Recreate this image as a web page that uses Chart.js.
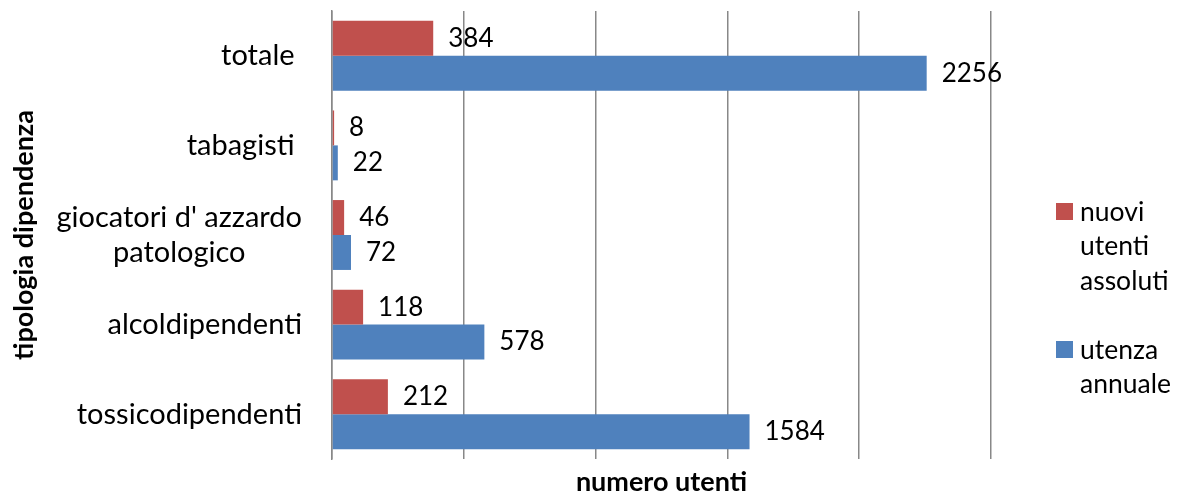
<!DOCTYPE html>
<html>
<head>
<meta charset="utf-8">
<script src="https://cdn.jsdelivr.net/npm/chart.js@4.4.1/dist/chart.umd.min.js"></script>
<style>
  html, body { margin: 0; padding: 0; background: #fff; }
  #wrap { width: 1179px; height: 494px; position: relative; }
</style>
</head>
<body>
<div id="wrap"><canvas id="chart"></canvas></div>
<script>
const categories = ['totale ', 'tabagisti ', ['giocatori d\' azzardo', 'patologico'], 'alcoldipendenti', 'tossicodipendenti'];
const nuoviUtenti = [384, 8, 46, 118, 212];
const utenzaAnnuale = [2256, 22, 72, 578, 1584];
const seriesNames = ['nuovi utenti assoluti', 'utenza annuale'];
const xMax = 2500;
const xStep = 500;

const FONT = 'Lato, "Open Sans", sans-serif';
const RED = '#C0504D';
const BLUE = '#4F81BD';

// category labels: block right-aligned next to the axis, lines centred inside the block
const categoryLabelPlugin = {
    id: 'categoryLabels',
    afterDraw(chart) {
        const ctx = chart.ctx;
        const yScale = chart.scales.y;
        const right = chart.chartArea.left - 30;
        const lineH = 35;
        ctx.save();
        ctx.font = '29px ' + FONT;
        ctx.fillStyle = '#000';
        ctx.textBaseline = 'middle';
        ctx.textAlign = 'center';
        categories.forEach((lbl, i) => {
            const lines = Array.isArray(lbl) ? lbl : [lbl];
            const w = Math.max(...lines.map(l => ctx.measureText(l).width));
            const cx = right - w / 2;
            const yc = yScale.getPixelForValue(i);
            lines.forEach((l, j) => {
                ctx.fillText(l, cx, yc + (j - (lines.length - 1) / 2) * lineH);
            });
        });
        ctx.restore();
    }
};

// value labels at the end of each bar
const valueLabelPlugin = {
    id: 'valueLabels',
    afterDatasetsDraw(chart) {
        const ctx = chart.ctx;
        ctx.save();
        ctx.font = '26px ' + FONT;
        ctx.fillStyle = '#000';
        ctx.textBaseline = 'middle';
        ctx.textAlign = 'left';
        chart.data.datasets.forEach((ds, di) => {
            chart.getDatasetMeta(di).data.forEach((bar, i) => {
                ctx.fillText(String(ds.data[i]), bar.x + 15, bar.y);
            });
        });
        ctx.restore();
    }
};

// legend with wrapped series names
const legendPlugin = {
    id: 'wrapLegend',
    afterDraw(chart) {
        const ctx = chart.ctx;
        const x = 1056;
        let y = 212;
        const lineH = 34.5;
        ctx.save();
        ctx.font = '26.5px ' + FONT;
        ctx.textBaseline = 'middle';
        ctx.textAlign = 'left';
        chart.data.datasets.forEach(ds => {
            ctx.fillStyle = ds.backgroundColor;
            ctx.fillRect(x, y - 9, 17, 17);
            ctx.fillStyle = '#000';
            ds.label.split(' ').forEach(word => {
                ctx.fillText(word, x + 24, y);
                y += lineH;
            });
            y += lineH;
        });
        ctx.restore();
    }
};

const ctx = document.getElementById('chart').getContext('2d');
new Chart(ctx, {
    type: 'bar',
    data: {
        labels: categories,
        datasets: [
            { label: seriesNames[0], data: nuoviUtenti, backgroundColor: RED, categoryPercentage: 0.78, barPercentage: 1 },
            { label: seriesNames[1], data: utenzaAnnuale, backgroundColor: BLUE, categoryPercentage: 0.78, barPercentage: 1 }
        ]
    },
    options: {
        indexAxis: 'y',
        responsive: true,
        maintainAspectRatio: false,
        animation: false,
        layout: { padding: { left: 0, right: 188, top: 11, bottom: 0 } },
        plugins: { legend: { display: false }, tooltip: { enabled: false } },
        scales: {
            x: {
                min: 0, max: xMax,
                ticks: { display: false, stepSize: xStep },
                grid: { color: '#888', lineWidth: 1.5, drawTicks: false },
                border: { display: false },
                title: { display: true, text: 'numero utenti', color: '#000', font: { family: FONT, size: 27, weight: 'bold', lineHeight: 0.85 }, padding: 0 },
                afterFit(scale) { scale.height = 35; }
            },
            y: {
                ticks: { display: false },
                grid: { display: false, drawTicks: false },
                border: { display: true, color: '#888', width: 1.5 },
                title: { display: true, text: 'tipologia dipendenza', color: '#000', font: { family: FONT, size: 27, weight: 'bold', lineHeight: 1 }, padding: { top: 11, bottom: 0 } },
                afterFit(scale) { scale.width = 332; }
            }
        }
    },
    plugins: [categoryLabelPlugin, valueLabelPlugin, legendPlugin]
});
</script>
</body>
</html>
